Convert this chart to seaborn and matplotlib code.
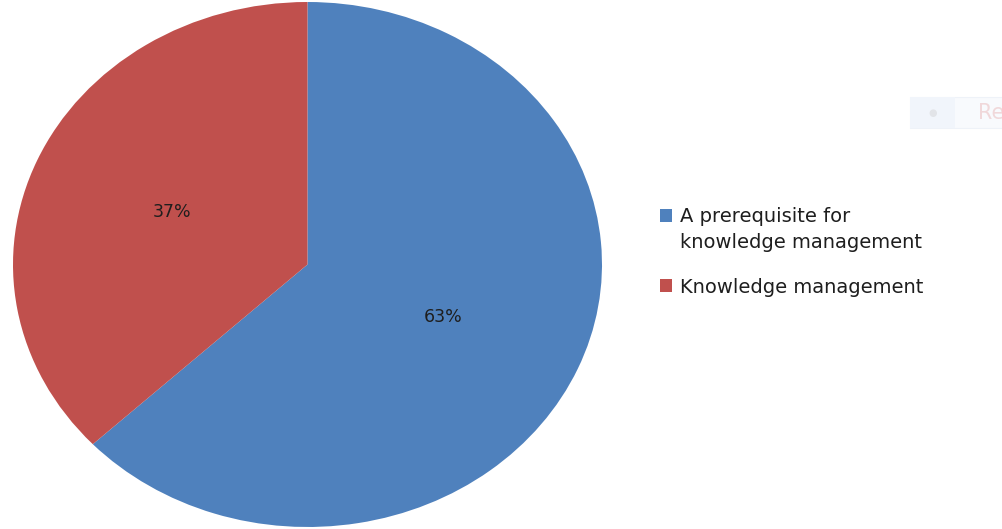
import matplotlib
matplotlib.use("Agg")
import matplotlib.pyplot as plt
import seaborn as sns
from matplotlib.patches import Rectangle
from matplotlib.legend_handler import HandlerPatch

sns.set_theme(style="white")
plt.rcParams['font.family'] = ['DejaVu Sans']

categories = ["A prerequisite for\nknowledge management", "Knowledge management"]
shares = [63, 37]
colors = ["#4F81BD", "#C0504D"]

W, H = 1003, 529
fig = plt.figure(figsize=(W / 100, H / 100), dpi=100)
fig.patch.set_facecolor("white")

# pie area in pixel terms (slightly wider than tall)
left, top, right, bottom = 13, 2, 602, 527
ax = fig.add_axes([left / W, 1 - bottom / H, (right - left) / W, (bottom - top) / H])

wedges, texts, autotexts = ax.pie(
    shares,
    colors=colors,
    startangle=90,
    counterclock=False,
    autopct="%d%%",
    pctdistance=0.5,
    radius=1.0,
    wedgeprops=dict(linewidth=0),
    textprops=dict(fontsize=12.5, color="#1e1e1e"),
)
ax.set_aspect("auto")
ax.set_xlim(-1, 1)
ax.set_ylim(-1, 1)
ax.axis("off")

LEG_FS = 14
LINE_SP = 1.5


def square_on_first_line(n_lines):
    """Legend swatch aligned with the first line of a multi-line label."""
    shift = (n_lines - 1) * 0.5 * LEG_FS * LINE_SP

    def make(legend, orig_handle, xdescent, ydescent, width, height, fontsize):
        return Rectangle((-xdescent, -ydescent + shift), width, height)
    return make


handler_map = {
    w: HandlerPatch(patch_func=square_on_first_line(lbl.count("\n") + 1))
    for w, lbl in zip(wedges, categories)
}

leg = fig.legend(
    wedges,
    categories,
    loc="upper left",
    bbox_to_anchor=(652 / W, 1 - 199 / H),
    frameon=False,
    fontsize=LEG_FS,
    handlelength=0.62,
    handleheight=0.62,
    handletextpad=0.4,
    labelspacing=1.3,
    borderaxespad=0,
    handler_map=handler_map,
)
for t in leg.get_texts():
    t.set_color("#1e1e1e")
    t.set_linespacing(LINE_SP)

# faint leftover tooltip box at the top right
fig.patches.append(Rectangle((910 / W, 1 - 128 / H), 93 / W, 31 / H,
                             transform=fig.transFigure, facecolor="#F8FAFD",
                             edgecolor="#EEF2F8", linewidth=0.8, zorder=0))
fig.patches.append(Rectangle((910 / W, 1 - 128 / H), 45 / W, 31 / H,
                             transform=fig.transFigure, facecolor="#F1F5FB",
                             edgecolor="none", zorder=0))
fig.text(933 / W, 1 - 113 / H, "\u25CF", color="#E2E4E8", fontsize=7,
         ha="center", va="center")
fig.text(978 / W, 1 - 113 / H, "Re", color="#F0D8DA", fontsize=15,
         ha="left", va="center")

fig.savefig("out.png", dpi=100, facecolor="white")
